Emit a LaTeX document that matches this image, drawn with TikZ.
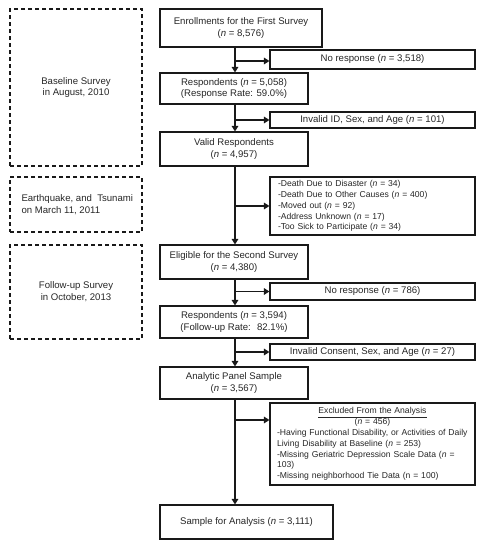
\documentclass[tikz,border=0pt]{standalone}
\usepackage{fontspec}
\setmainfont{Liberation Sans}
\usetikzlibrary{arrows.meta}
\newcommand{\nn}{\textit{n}}
\begin{document}
\begin{tikzpicture}[x=1pt,y=-1pt,
  mainbox/.style={draw=black!90, line width=1.1pt, inner sep=0pt, align=center, text=black!85,
    font=\fontsize{9.6}{11.5}\selectfont},
  sidebox/.style={draw=black!90, line width=1.1pt, inner sep=0pt, text=black!85,
    font=\fontsize{8.6}{10.8}\selectfont, minimum width=205pt},
  phase/.style={draw=black!90, line width=1.1pt, dashed, dash pattern=on 4pt off 3pt, inner sep=0pt,
    minimum width=132pt, align=center, text=black!85, font=\fontsize{9.6}{11.8}\selectfont},
  arr/.style={line width=1.8pt, draw=black!90, -{Triangle[length=5.5pt,width=6.5pt]}},
  ]
\useasboundingbox (0,0) rectangle (484,550);
% phase boxes
\node[phase, minimum height=157pt] (d1) at (76,87.5) {Baseline Survey\\in August, 2010};
\node[phase, minimum height=55pt, align=left] (d2) at (76,204.5) {\makebox[109pt][l]{Earthquake, and \ Tsunami}\\on March 11, 2011};
\node[phase, minimum height=94pt] (d3) at (76,292) {Follow-up Survey\\in October, 2013};
% main boxes
\node[mainbox, minimum width=162pt, minimum height=38pt] (enr) at (241,28) {Enrollments for the First Survey\\(\nn{} = 8,576)};
\node[mainbox, minimum width=148pt, minimum height=31pt] (resp1) at (234,88.5) {Respondents (\nn{} = 5,058)\\(Response Rate: 59.0\%)};
\node[mainbox, minimum width=148pt, minimum height=34pt] (valid) at (234,149) {Valid Respondents\\(\nn{} = 4,957)};
\node[mainbox, minimum width=148pt, minimum height=34pt] (elig) at (234,262) {Eligible for the Second Survey\\(\nn{} = 4,380)};
\node[mainbox, minimum width=148pt, minimum height=32pt] (resp2) at (234,322) {Respondents (\nn{} = 3,594)\\(Follow-up Rate: \ 82.1\%)};
\node[mainbox, minimum width=148pt, minimum height=32pt] (anal) at (234,383) {Analytic Panel Sample\\(\nn{} = 3,567)};
\node[mainbox, minimum width=173pt, minimum height=34pt] (samp) at (246.5,522) {Sample for Analysis (\nn{} = 3,111)};
% side boxes
\node[mainbox, minimum width=205pt, minimum height=19pt] (nr1) at (372.5,59.5) {No response (\nn{} = 3,518)};
\node[mainbox, minimum width=205pt, minimum height=16pt] (inv1) at (372.5,120) {Invalid ID, Sex, and Age (\nn{} = 101)};
\node[sidebox, minimum height=58pt, text width=189pt, inner xsep=8pt, align=left] (ex1) at (372.5,206)
  {-Death Due to Disaster (\nn{} = 34)\\-Death Due to Other Causes (\nn{} = 400)\\-Moved out (\nn{} = 92)\\-Address Unknown (\nn{} = 17)\\-Too Sick to Participate (\nn{} = 34)};
\node[mainbox, minimum width=205pt, minimum height=17pt] (nr2) at (372.5,291.5) {No response (\nn{} = 786)};
\node[mainbox, minimum width=205pt, minimum height=16pt] (inv2) at (372.5,352) {Invalid Consent, Sex, and Age (\nn{} = 27)};
\node[sidebox, minimum height=82pt, text width=191pt, inner xsep=7pt, align=left] (ex2) at (372.5,444)
  {\makebox[191pt]{\underline{Excluded From the Analysis}}\\\makebox[191pt]{(\nn{} = 456)}\\-Having Functional Disability, or Activities of Daily\\Living Disability at Baseline (\nn{} = 253)\\-Missing Geriatric Depression Scale Data (\nn{} =\\103)\\-Missing neighborhood Tie Data (n = 100)};
% trunk
\coordinate (t) at (235,0);
\draw[arr] (enr.south -| t) -- (resp1.north -| t);
\draw[arr] (resp1.south -| t) -- (valid.north -| t);
\draw[arr] (valid.south -| t) -- (elig.north -| t);
\draw[arr] (elig.south -| t) -- (resp2.north -| t);
\draw[arr] (resp2.south -| t) -- (anal.north -| t);
\draw[arr] (anal.south -| t) -- (samp.north -| t);
% branches
\coordinate (b1) at (0,61);
\draw[arr] (t |- b1) -- (nr1.west |- b1);
\draw[arr] (t |- inv1) -- (inv1.west);
\draw[arr] (t |- ex1) -- (ex1.west);
\draw[arr] (t |- nr2) -- (nr2.west);
\draw[arr] (t |- inv2) -- (inv2.west);
\coordinate (b6) at (0,420);
\draw[arr] (t |- b6) -- (ex2.west |- b6);
\end{tikzpicture}
\end{document}
